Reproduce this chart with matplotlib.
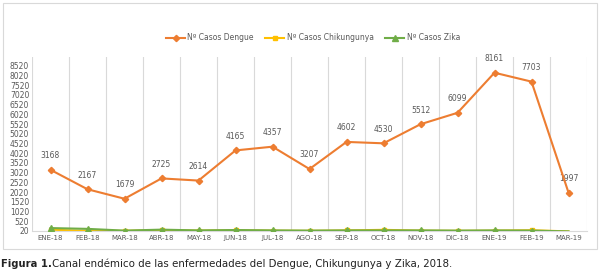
import matplotlib
matplotlib.use("Agg")
import matplotlib.pyplot as plt
from matplotlib.patches import Rectangle

months = ["ENE-18", "FEB-18", "MAR-18", "ABR-18", "MAY-18", "JUN-18", "JUL-18", "AGO-18",
          "SEP-18", "OCT-18", "NOV-18", "DIC-18", "ENE-19", "FEB-19", "MAR-19"]
dengue = [3168, 2167, 1679, 2725, 2614, 4165, 4357, 3207, 4602, 4530, 5512, 6099, 8161, 7703, 1997]
chikungunya = [90, 20, 30, 70, 40, 60, 40, 30, 50, 80, 40, 30, 40, 60, 0]
zika = [170, 130, 40, 90, 50, 70, 50, 40, 50, 50, 50, 40, 50, 40, 0]
yticks = list(range(20, 8521, 500))

W, H = 602, 276
fig = plt.figure(figsize=(W / 100, H / 100), dpi=100)
fig.patch.set_facecolor("white")

# chart border
fig.add_artist(Rectangle((3 / W, 1 - 249 / H), 594 / W, 246 / H, transform=fig.transFigure,
                         fill=False, edgecolor="#d9d9d9", linewidth=0.8))

ax = fig.add_axes([32 / W, 1 - 231 / H, 555 / W, 174 / H])
x = list(range(len(months)))

ax.plot(x, zika, color="#70AD47", marker="^", markersize=4, linewidth=1.5,
        markevery=list(range(14)), label="Nº Casos Zika", zorder=3)
ax.plot(x, chikungunya, color="#FFC000", marker="s", markersize=3.5, linewidth=1.5,
        markevery=list(range(14)), label="Nº Casos Chikungunya", zorder=2)
ax.plot(x, dengue, color="#ED7D31", marker="D", markersize=3.2, linewidth=1.5,
        label="Nº Casos Dengue", zorder=4)

for xi, v in zip(x, dengue):
    ax.annotate(str(v), (xi, v), xytext=(0, 7), textcoords="offset points",
                ha="center", va="bottom", fontsize=5.5, color="#595959")

ax.set_xlim(-0.5, len(months) - 0.5)
ax.set_ylim(20, 8970)
ax.set_yticks(yticks)
ax.set_yticklabels([str(t) for t in yticks], fontsize=5.5, color="#595959")
ax.set_xticks(x)
ax.set_xticklabels(months, fontsize=5, color="#595959")
ax.tick_params(axis="both", length=0, pad=3)
ax.tick_params(axis="y", pad=2)

# vertical gridlines at category boundaries
for b in [i - 0.5 for i in range(len(months) + 1)]:
    ax.axvline(b, color="#d9d9d9", linewidth=0.8, zorder=0)
for s in ["top", "left", "right"]:
    ax.spines[s].set_visible(False)
ax.spines["bottom"].set_color("#d9d9d9")
ax.spines["bottom"].set_linewidth(0.8)

handles, labels = ax.get_legend_handles_labels()
order = [2, 1, 0]
fig.legend([handles[i] for i in order], [labels[i] for i in order],
           loc="center", bbox_to_anchor=(313 / W, 1 - 38 / H), ncol=3, frameon=False,
           fontsize=5.5, labelcolor="#595959", handlelength=2.5, columnspacing=1.5,
           handletextpad=0.3)

fig.text(1 / W, 1 - 264 / H, "Figura 1.", fontsize=7.2, fontweight="bold", color="#222222",
         ha="left", va="center")
fig.text(52 / W, 1 - 264 / H, "Canal endémico de las enfermedades del Dengue, Chikungunya y Zika, 2018.",
         fontsize=7.4, color="#222222", ha="left", va="center")

fig.savefig("out.png", dpi=100, facecolor="white")
